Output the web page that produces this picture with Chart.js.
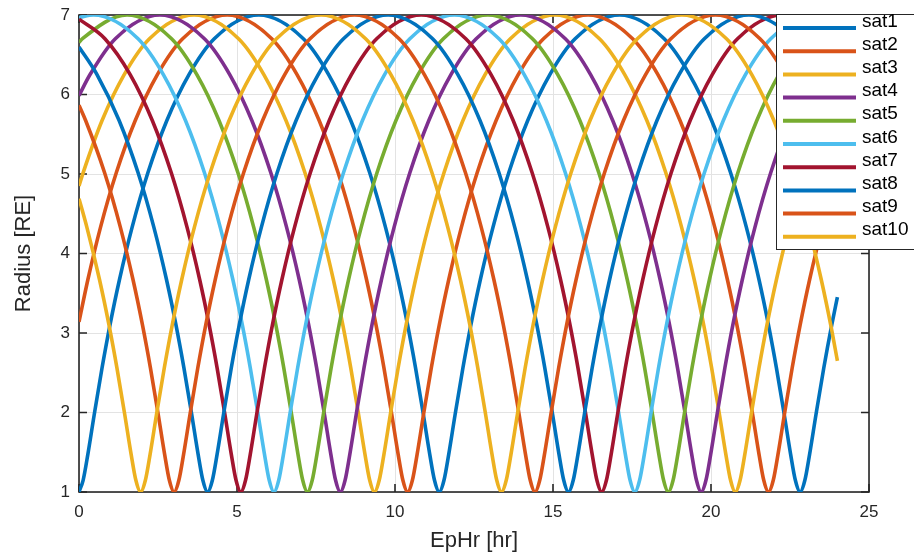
<!DOCTYPE html>
<html><head><meta charset="utf-8">
<script src="https://cdn.jsdelivr.net/npm/chart.js@4/dist/chart.umd.min.js"></script>
<style>html,body{margin:0;padding:0;background:#fff;}canvas{display:block;}</style>
</head><body>
<canvas id="c" width="914" height="554"></canvas>
<script>
// ---- data (EpHr [hr], Radius [RE]) ----
const satNames = ['sat1','sat2','sat3','sat4','sat5','sat6','sat7','sat8','sat9','sat10'];
const xTicks = [0,5,10,15,20,25];
const yTicks = [1,2,3,4,5,6,7];

const sat1 = [[0,1.003],[0.13,1.147],[0.28,1.473],[0.48,1.968],[0.73,2.562],[0.98,3.099],[1.28,3.670],[1.68,4.329],[2.18,5.015],[2.78,5.673],[3.48,6.251],[4.28,6.702],[5.69,7],
[7.10,6.702],[7.90,6.251],[8.60,5.673],[9.20,5.015],[9.70,4.329],[10.10,3.670],[10.40,3.099],[10.65,2.562],[10.90,1.968],[11.10,1.473],[11.25,1.147],[11.40,1],[11.55,1.147],[11.70,1.473],[11.90,1.968],[12.15,2.562],[12.40,3.099],[12.70,3.670],[13.10,4.329],[13.60,5.015],[14.20,5.673],[14.90,6.251],[15.70,6.702],[17.11,7],
[18.52,6.702],[19.32,6.251],[20.02,5.673],[20.62,5.015],[21.12,4.329],[21.52,3.670],[21.82,3.099],[22.07,2.562],[22.32,1.968],[22.52,1.473],[22.67,1.147],[22.82,1],[22.97,1.147],[23.12,1.473],[23.32,1.968],[23.57,2.562],[23.82,3.099],[24,3.452]];

const sat2 = [[0,3.140],[0.28,3.670],[0.68,4.329],[1.18,5.015],[1.78,5.673],[2.48,6.251],[3.28,6.702],[4.69,7],
[6.10,6.702],[6.90,6.251],[7.60,5.673],[8.20,5.015],[8.70,4.329],[9.10,3.670],[9.40,3.099],[9.65,2.562],[9.90,1.968],[10.10,1.473],[10.25,1.147],[10.40,1],[10.55,1.147],[10.70,1.473],[10.90,1.968],[11.15,2.562],[11.40,3.099],[11.70,3.670],[12.10,4.329],[12.60,5.015],[13.20,5.673],[13.90,6.251],[14.70,6.702],[16.11,7],
[17.52,6.702],[18.32,6.251],[19.02,5.673],[19.62,5.015],[20.12,4.329],[20.52,3.670],[20.82,3.099],[21.07,2.562],[21.32,1.968],[21.52,1.473],[21.67,1.147],[21.82,1],[21.97,1.147],[22.12,1.473],[22.32,1.968],[22.57,2.562],[22.82,3.099],[23.12,3.670],[23.52,4.329],[24,4.990]];

const sat3 = [[0,4.850],[0.13,5.015],[0.73,5.673],[1.43,6.251],[2.23,6.702],[3.64,7],
[5.05,6.702],[5.85,6.251],[6.55,5.673],[7.15,5.015],[7.65,4.329],[8.05,3.670],[8.35,3.099],[8.60,2.562],[8.85,1.968],[9.05,1.473],[9.20,1.147],[9.35,1],[9.50,1.147],[9.65,1.473],[9.85,1.968],[10.10,2.562],[10.35,3.099],[10.65,3.670],[11.05,4.329],[11.55,5.015],[12.15,5.673],[12.85,6.251],[13.65,6.702],[15.06,7],
[16.47,6.702],[17.27,6.251],[17.97,5.673],[18.57,5.015],[19.07,4.329],[19.47,3.670],[19.77,3.099],[20.02,2.562],[20.27,1.968],[20.47,1.473],[20.62,1.147],[20.77,1],[20.92,1.147],[21.07,1.473],[21.27,1.968],[21.52,2.562],[21.77,3.099],[22.07,3.670],[22.47,4.329],[22.97,5.015],[23.57,5.673],[24,6.054]];

const sat4 = [[0,5.986],[0.35,6.251],[1.15,6.702],[2.56,7],
[3.97,6.702],[4.77,6.251],[5.47,5.673],[6.07,5.015],[6.57,4.329],[6.97,3.670],[7.27,3.099],[7.52,2.562],[7.77,1.968],[7.97,1.473],[8.12,1.147],[8.27,1],[8.42,1.147],[8.57,1.473],[8.77,1.968],[9.02,2.562],[9.27,3.099],[9.57,3.670],[9.97,4.329],[10.47,5.015],[11.07,5.673],[11.77,6.251],[12.57,6.702],[13.98,7],
[15.39,6.702],[16.19,6.251],[16.89,5.673],[17.49,5.015],[17.99,4.329],[18.39,3.670],[18.69,3.099],[18.94,2.562],[19.19,1.968],[19.39,1.473],[19.54,1.147],[19.69,1],[19.84,1.147],[19.99,1.473],[20.19,1.968],[20.44,2.562],[20.69,3.099],[20.99,3.670],[21.39,4.329],[21.89,5.015],[22.49,5.673],[23.19,6.251],[24,6.705]];

const sat5 = [[0,6.655],[0.11,6.702],[1.52,7],
[2.93,6.702],[3.73,6.251],[4.43,5.673],[5.03,5.015],[5.53,4.329],[5.93,3.670],[6.23,3.099],[6.48,2.562],[6.73,1.968],[6.93,1.473],[7.08,1.147],[7.23,1],[7.38,1.147],[7.53,1.473],[7.73,1.968],[7.98,2.562],[8.23,3.099],[8.53,3.670],[8.93,4.329],[9.43,5.015],[10.03,5.673],[10.73,6.251],[11.53,6.702],[12.94,7],
[14.35,6.702],[15.15,6.251],[15.85,5.673],[16.45,5.015],[16.95,4.329],[17.35,3.670],[17.65,3.099],[17.90,2.562],[18.15,1.968],[18.35,1.473],[18.50,1.147],[18.65,1],[18.80,1.147],[18.95,1.473],[19.15,1.968],[19.40,2.562],[19.65,3.099],[19.95,3.670],[20.35,4.329],[20.85,5.015],[21.45,5.673],[22.15,6.251],[22.95,6.702],[24,6.981]];

const sat6 = [[0,6.969],[0.46,7],
[1.87,6.702],[2.67,6.251],[3.37,5.673],[3.97,5.015],[4.47,4.329],[4.87,3.670],[5.17,3.099],[5.42,2.562],[5.67,1.968],[5.87,1.473],[6.02,1.147],[6.17,1],[6.32,1.147],[6.47,1.473],[6.67,1.968],[6.92,2.562],[7.17,3.099],[7.47,3.670],[7.87,4.329],[8.37,5.015],[8.97,5.673],[9.67,6.251],[10.47,6.702],[11.88,7],
[13.29,6.702],[14.09,6.251],[14.79,5.673],[15.39,5.015],[15.89,4.329],[16.29,3.670],[16.59,3.099],[16.84,2.562],[17.09,1.968],[17.29,1.473],[17.44,1.147],[17.59,1],[17.74,1.147],[17.89,1.473],[18.09,1.968],[18.34,2.562],[18.59,3.099],[18.89,3.670],[19.29,4.329],[19.79,5.015],[20.39,5.673],[21.09,6.251],[21.89,6.702],[23.30,7],[24,6.927]];

const sat7 = [[0,6.948],[0.82,6.702],[1.62,6.251],[2.32,5.673],[2.92,5.015],[3.42,4.329],[3.82,3.670],[4.12,3.099],[4.37,2.562],[4.62,1.968],[4.82,1.473],[4.97,1.147],[5.12,1],[5.27,1.147],[5.42,1.473],[5.62,1.968],[5.87,2.562],[6.12,3.099],[6.42,3.670],[6.82,4.329],[7.32,5.015],[7.92,5.673],[8.62,6.251],[9.42,6.702],[10.83,7],
[12.24,6.702],[13.04,6.251],[13.74,5.673],[14.34,5.015],[14.84,4.329],[15.24,3.670],[15.54,3.099],[15.79,2.562],[16.04,1.968],[16.24,1.473],[16.39,1.147],[16.54,1],[16.69,1.147],[16.84,1.473],[17.04,1.968],[17.29,2.562],[17.54,3.099],[17.84,3.670],[18.24,4.329],[18.74,5.015],[19.34,5.673],[20.04,6.251],[20.84,6.702],[22.25,7],[23.66,6.702],[24,6.537]];

const sat8 = [[0,6.599],[0.57,6.251],[1.27,5.673],[1.87,5.015],[2.37,4.329],[2.77,3.670],[3.07,3.099],[3.32,2.562],[3.57,1.968],[3.77,1.473],[3.92,1.147],[4.07,1],[4.22,1.147],[4.37,1.473],[4.57,1.968],[4.82,2.562],[5.07,3.099],[5.37,3.670],[5.77,4.329],[6.27,5.015],[6.87,5.673],[7.57,6.251],[8.37,6.702],[9.78,7],
[11.19,6.702],[11.99,6.251],[12.69,5.673],[13.29,5.015],[13.79,4.329],[14.19,3.670],[14.49,3.099],[14.74,2.562],[14.99,1.968],[15.19,1.473],[15.34,1.147],[15.49,1],[15.64,1.147],[15.79,1.473],[15.99,1.968],[16.24,2.562],[16.49,3.099],[16.79,3.670],[17.19,4.329],[17.69,5.015],[18.29,5.673],[18.99,6.251],[19.79,6.702],[21.20,7],[22.61,6.702],[23.41,6.251],[24,5.778]];

const sat9 = [[0,5.865],[0.21,5.673],[0.81,5.015],[1.31,4.329],[1.71,3.670],[2.01,3.099],[2.26,2.562],[2.51,1.968],[2.71,1.473],[2.86,1.147],[3.01,1],[3.16,1.147],[3.31,1.473],[3.51,1.968],[3.76,2.562],[4.01,3.099],[4.31,3.670],[4.71,4.329],[5.21,5.015],[5.81,5.673],[6.51,6.251],[7.31,6.702],[8.72,7],
[10.13,6.702],[10.93,6.251],[11.63,5.673],[12.23,5.015],[12.73,4.329],[13.13,3.670],[13.43,3.099],[13.68,2.562],[13.93,1.968],[14.13,1.473],[14.28,1.147],[14.43,1],[14.58,1.147],[14.73,1.473],[14.93,1.968],[15.18,2.562],[15.43,3.099],[15.73,3.670],[16.13,4.329],[16.63,5.015],[17.23,5.673],[17.93,6.251],[18.73,6.702],[20.14,7],[21.55,6.702],[22.35,6.251],[23.05,5.673],[23.65,5.015],[24,4.550]];

const sat10 = [[0,4.690],[0.25,4.329],[0.65,3.670],[0.95,3.099],[1.20,2.562],[1.45,1.968],[1.65,1.473],[1.80,1.147],[1.95,1],[2.10,1.147],[2.25,1.473],[2.45,1.968],[2.70,2.562],[2.95,3.099],[3.25,3.670],[3.65,4.329],[4.15,5.015],[4.75,5.673],[5.45,6.251],[6.25,6.702],[7.66,7],
[9.07,6.702],[9.87,6.251],[10.57,5.673],[11.17,5.015],[11.67,4.329],[12.07,3.670],[12.37,3.099],[12.62,2.562],[12.87,1.968],[13.07,1.473],[13.22,1.147],[13.37,1],[13.52,1.147],[13.67,1.473],[13.87,1.968],[14.12,2.562],[14.37,3.099],[14.67,3.670],[15.07,4.329],[15.57,5.015],[16.17,5.673],[16.87,6.251],[17.67,6.702],[19.08,7],[20.49,6.702],[21.29,6.251],[21.99,5.673],[22.59,5.015],[23.09,4.329],[23.49,3.670],[23.79,3.099],[24,2.650]];

const satSeries = [sat1,sat2,sat3,sat4,sat5,sat6,sat7,sat8,sat9,sat10];

// ---- styling ----
const palette = ['#0072BD','#D95319','#EDB120','#7E2F8E','#77AC30','#4DBEEE','#A2142F','#0072BD','#D95319','#EDB120'];
const FONT = '"Liberation Sans", Arial, Helvetica, sans-serif';
const AXIS_COLOR = '#262626';
Chart.defaults.font.family = FONT;
Chart.defaults.color = AXIS_COLOR;

const boxPlugin = {
  id: 'boxPlugin',
  beforeDatasetsDraw(chart) {
    const {ctx, chartArea: a, scales: {x, y}} = chart;
    ctx.save();
    ctx.strokeStyle = AXIS_COLOR;
    ctx.lineWidth = 1.6;
    ctx.beginPath();
    const tl = 8;
    xTicks.forEach(v => {
      const p = x.getPixelForValue(v);
      ctx.moveTo(p, a.bottom); ctx.lineTo(p, a.bottom - tl);
      ctx.moveTo(p, a.top); ctx.lineTo(p, a.top + tl);
    });
    yTicks.forEach(v => {
      const p = y.getPixelForValue(v);
      ctx.moveTo(a.left, p); ctx.lineTo(a.left + tl, p);
      ctx.moveTo(a.right, p); ctx.lineTo(a.right - tl, p);
    });
    ctx.stroke();
    ctx.strokeRect(a.left, a.top, a.right - a.left, a.bottom - a.top);
    ctx.restore();
  }
};

const legendPlugin = {
  id: 'legendBox',
  afterDraw(chart) {
    const {ctx, chartArea: a} = chart;
    const bx = a.right - 93, by = a.top - 1, bw = 160, bh = 235;
    ctx.save();
    ctx.fillStyle = '#ffffff';
    ctx.fillRect(bx, by, bw, bh);
    ctx.strokeStyle = AXIS_COLOR;
    ctx.lineWidth = 1;
    ctx.strokeRect(bx + 0.5, by + 0.5, bw, bh);
    ctx.font = '19px ' + FONT;
    ctx.textBaseline = 'alphabetic';
    ctx.textAlign = 'left';
    satNames.forEach((name, i) => {
      const ly = by + 14 + i * 23.2;
      ctx.strokeStyle = palette[i];
      ctx.lineWidth = 4;
      ctx.beginPath();
      ctx.moveTo(bx + 7, ly); ctx.lineTo(bx + 80, ly);
      ctx.stroke();
      ctx.fillStyle = '#000000';
      ctx.fillText(name, bx + 86, ly - 1.5);
    });
    ctx.restore();
  }
};

new Chart(document.getElementById('c'), {
  type: 'line',
  data: {
    datasets: satSeries.map((s, i) => ({
      label: satNames[i],
      data: s,
      borderColor: palette[i],
      backgroundColor: palette[i],
      borderWidth: 3.6,
      pointRadius: 0,
      fill: false,
      cubicInterpolationMode: 'monotone',
      borderJoinStyle: 'round',
      order: satSeries.length - i
    }))
  },
  options: {
    responsive: false,
    animation: false,
    events: [],
    layout: {padding: {left: 0, right: 45, top: 15, bottom: 0}},
    plugins: {legend: {display: false}, tooltip: {enabled: false}},
    scales: {
      x: {
        type: 'linear', min: 0, max: 25,
        afterBuildTicks: s => { s.ticks = xTicks.map(v => ({value: v})); },
        afterFit: s => { s.height = 62; s.paddingLeft = 0; s.paddingRight = 0; },
        grid: {color: '#e3e3e3', lineWidth: 1, drawTicks: false},
        border: {display: false},
        ticks: {padding: 10, maxRotation: 0, font: {size: 17}, color: AXIS_COLOR},
        title: {display: true, text: 'EpHr [hr]', font: {size: 22}, color: AXIS_COLOR, padding: {top: 0, bottom: 0}}
      },
      y: {
        type: 'linear', min: 1, max: 7,
        afterBuildTicks: s => { s.ticks = yTicks.map(v => ({value: v})); },
        afterFit: s => { s.width = 79; s.paddingTop = 0; s.paddingBottom = 0; },
        grid: {color: '#e3e3e3', lineWidth: 1, drawTicks: false},
        border: {display: false},
        ticks: {padding: 9, font: {size: 17}, color: AXIS_COLOR},
        title: {display: true, text: 'Radius [RE]', font: {size: 22}, color: AXIS_COLOR, padding: {top: 11, bottom: 0}}
      }
    }
  },
  plugins: [boxPlugin, legendPlugin]
});
</script>
</body></html>
